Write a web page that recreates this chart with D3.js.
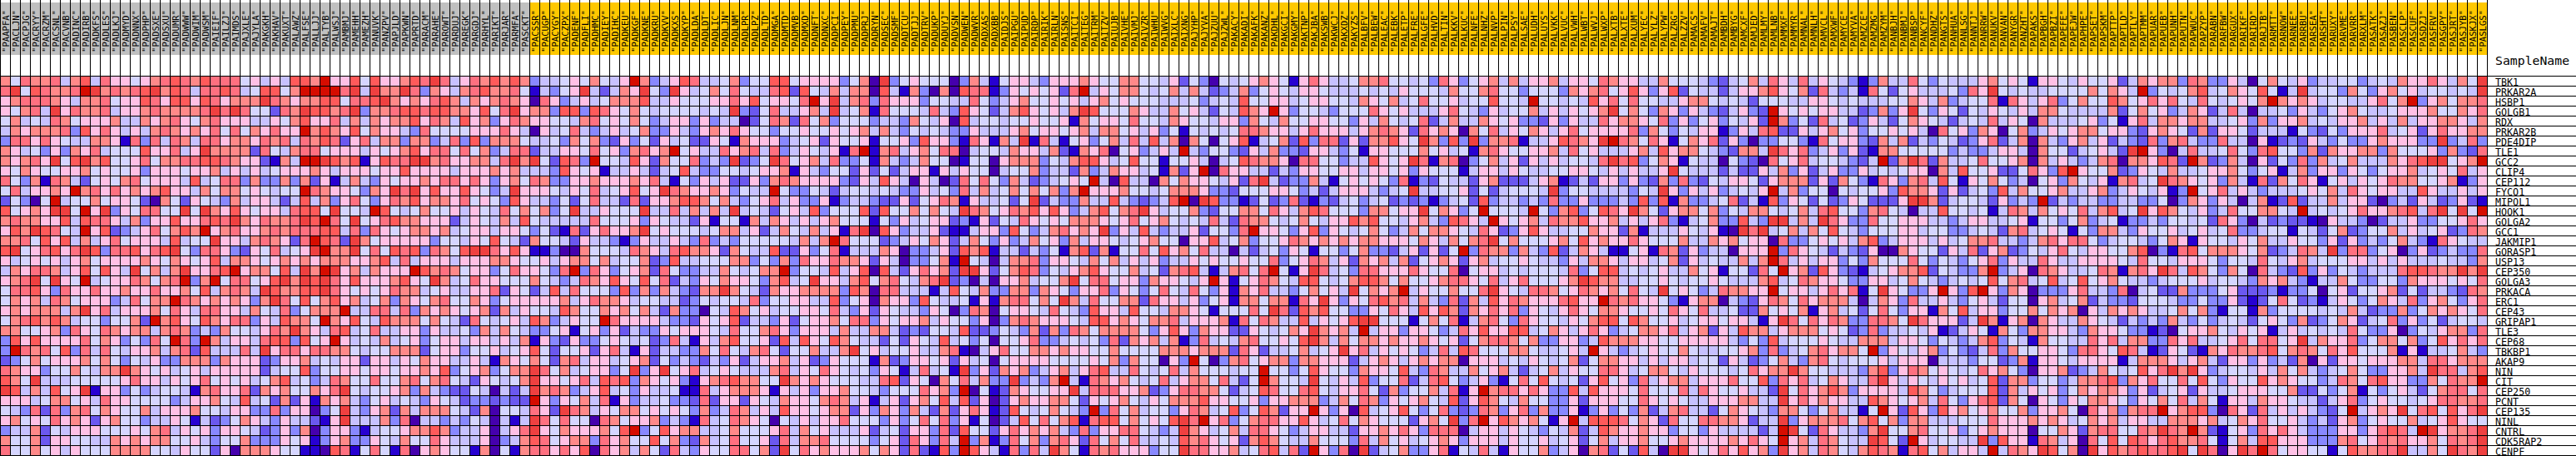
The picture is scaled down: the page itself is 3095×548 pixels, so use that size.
<!DOCTYPE html>
<html>
<head>
<meta charset="utf-8">
<style>
html,body{margin:0;padding:0;background:#fff;overflow:hidden}
svg{display:block}
text{fill:#000}
</style>
<script src="https://d3js.org/d3.v7.min.js"></script>
</head>
<body>
<svg id="chart" width="3095" height="548"></svg>
<script>
const genes = ["TBK1","PRKAR2A","HSBP1","GOLGB1","RDX","PRKAR2B","PDE4DIP","TLE1","GCC2","CLIP4","CEP112","FYCO1","MIPOL1","HOOK1","GOLGA2","GCC1","JAKMIP1","GORASP1","USP13","CEP350","GOLGA3","PRKACA","ERC1","CEP43","GRIPAP1","TLE3","CEP68","TBKBP1","AKAP9","NIN","CIT","CEP250","PCNT","CEP135","NINL","CNTRL","CDK5RAP2","CENPF"];
const samplesGray = ["PAAPFA","PACLJN","PACPJG","PACRYY","PACRZM","PACSNL","PACVNB","PADINC","PADIRB","PADKFS","PADLES","PADLKJ","PADMYD","PADNNX","PADPHP","PADSXE","PADSXU","PADUMR","PADWWW","PADWIM","PADWSM","PAIEIF","PAILZJ","PAIMDS","PAJXLE","PAJYLA","PAKGKH","PAKHAV","PAKUXT","PALAWZ","PALFSE","PALLJJ","PALTYB","PALWSJ","PAMBMJ","PAMEHH","PAMEZH","PANUVK","PANZPV","PAPJLD","PAPKWN","PAPRTD","PARACM","PARAHE","PAROWT","PARDUJ","PAREGK","PARGDJ","PARHYL","PARIKT","PARJAR","PARMFA","PASCKT"];
const samplesGold = ["PACSSR","PACUGP","PACYGY","PACZPX","PADENF","PADFLI","PADHMC","PADIEY","PADIHC","PADKEU","PADKGF","PADKNE","PADKRU","PADKVV","PADKXS","PADKYP","PADLDA","PADLDT","PADLIC","PADLJN","PADLNM","PADLPR","PADLPZ","PADLTD","PADMGA","PADMTD","PADMVB","PADMXD","PADNFT","PADNXC","PADPCI","PADPEY","PADPMU","PADPRJ","PADRYN","PADSEC","PADSMF","PADTCU","PADTJJ","PADTRV","PADUKP","PADUYJ","PADVSN","PADWEN","PADWVR","PADXAS","PADXBB","PAIDJS","PAIPGU","PAIPUD","PAIRDP","PAIRIK","PAIRLN","PAISNS","PAITCI","PAITEG","PAITRM","PAITZV","PAIUJB","PAIVHE","PAIVMJ","PAIVZR","PAIWHU","PAIWVG","PAIXLC","PAIXNG","PAJYHP","PAJYVA","PAJZUU","PAJZWL","PAKACY","PAKADI","PAKAFK","PAKANZ","PAKDHL","PAKGCI","PAKGMY","PAKTNP","PAKJBA","PAKSWB","PAKWCJ","PAKXDZ","PAKYZS","PALBFV","PALBEW","PALEAC","PALEBK","PALETP","PALFRE","PALGFE","PALHVD","PALTIN","PALKKV","PALKUC","PALNFE","PALNHZ","PALNVP","PALPIN","PALPSY","PALSAE","PALUDH","PALUYS","PALVKK","PALVUC","PALVWH","PALWBT","PALWVJ","PALWXP","PALXTB","PALXTE","PALXUM","PALYEC","PALYLZ","PALYPW","PALZRG","PALZZV","PAMACS","PAMAFV","PAMAJT","PAMBDH","PAMBYG","PAMCXF","PAMJED","PAMLMY","PAMLNB","PAMMXF","PAMMYR","PAMNAL","PAMNLH","PAMVCL","PAMXWF","PAMYCE","PAMYVA","PAMZCE","PAMZMG","PAMZYM","PANBJH","PANBMJ","PANBSP","PANCYF","PANDHZ","PANGTS","PANHUA","PANLSG","PANNTJ","PANRRW","PANUKV","PANVAN","PANYGR","PANZHT","PAPAKS","PAPBGH","PAPBZI","PAPEFE","PAPEJW","PAPHPE","PAPSET","PAPSKM","PAPTTP","PAPTLD","PAPTLY","PAPTMM","PAPUAR","PAPUEB","PAPUNH","PAPUTN","PAPWUC","PAPZYP","PARABN","PARFBW","PARGUX","PARIKF","PARIRD","PARJTB","PARMTT","PARNOW","PARNEE","PARRBU","PARSEA","PARSHT","PARUXY","PARVME","PARVRR","PARXLM","PASATK","PASAZJ","PASBEN","PASCLP","PASCUF","PASDZJ","PASFRV","PASGPY","PASJRT","PASJYB","PASKJX","PASLGS"];
const palette = ["#4500AD","#2700D1","#6B58EF","#8888FF","#C7C1FF","#D5D5FF","#FFC0E5","#FF8989","#FF7080","#FF5A5A","#EF4040","#D60C00"];
// Heat levels (hex digit = palette index), one string per gene
const levelsA = [
"75877 84794 86656 78987 98885 64649 9","8a598 778ba 78789 a7984 88984 59957 b","67888 76477 85669 86996 98677 7a876 7","65784 a6877 84667 87777 8a8a8 55287 a","57454 87566 67447 67865 78666 44657 9","47677 78396 86464 78767 68585 76866 b","38868 65447 76183 84874 88677 68784 8","76453 63768 45559 66846 a7777 28547 8","76786 a59a7 95568 57788 99876 62174 b","65765 56675 65563 66656 67464 64566 6","85371 87425 65785 66649 45883 73373 7","58466 76b78 68676 79664 75775 65455 b","25305 b4557 56652 07526 54374 66424 9","95676 aa5b6 a3658 855a5 a7696 56648 9","78776 69498 86473 66966 898a7 68778 a","697a9 854b6 92346 85797 b6786 67878 8","77859 69474 68566 64945 5a664 78762 8","9a568 968a9 38896 89a53 88632 65845 6","64565 64675 66667 65765 69477 65676 7","47688 74695 964a5 747a6 689b6 77594 a","678a5 a65b4 56687 578b3 7b588 569a7 a","58896 38668 66766 86675 94787 4a977 9","57674 87566 63485 77b87 67676 37a85 9","67677 747a6 84666 75864 88664 75483 5","57897 97455 35572 b7965 97688 36497 7","77556 73865 87677 47873 43755 4687a 7","39696 66685 76353 85b83 b7466 48993 9","3b878 59384 85466 74782 94448 4a688 6","23575 66675 75354 63377 73766 62366 7","87663 55754 77a76 56456 46666 62455 9","975a4 44555 55686 64656 85656 45794 5","a9474 956a1 66353 45541 78668 27675 5","66645 77564 86655 55346 67549 45272 6","54382 83785 76557 46667 55466 33836 6","67565 86762 67553 44651 42357 64364 4","34472 54666 55565 78465 63665 42363 7","75572 66554 47676 77556 43557 33365 6","85575 64655 57777 55465 52607 77655 1"];
const levelsB = [
"7b669 59667 98a84 68797 97344 56575 4","bbb8a 4a77a 83764 78977 85143 56a42 4","79958 89a76 76897 47678 76086 34645 7","9978a 37789 98997 76958 a6773 99398 6","66847 47677 96874 96736 87665 54785 6","79769 57664 38555 56668 64064 58434 6","79826 84773 77348 39377 75445 37573 2","85666 46567 96885 85734 88244 66585 6","ba979 16988 aa786 67748 a7a52 983b5 5","76466 65669 66664 66676 74443 96561 4","26147 43656 67688 68636 75873 36676 6","87665 376a8 a6966 96534 a6665 46584 5","47368 53687 96776 85653 96443 52584 4","95a55 4b954 57556 46548 57573 5a446 5","9b85a 56897 76662 46547 49544 44485 5","89948 38656 77674 56646 65352 18268 6","b982a 75666 66355 46595 42755 42644 3","ab77a 58598 93875 9aa86 96113 00755 5","67776 67948 46664 66677 65564 67757 4","7ba67 47666 b9787 56635 86653 8b386 3","9a869 66679 65a74 58665 55754 34876 9","9a865 65687 74564 46682 65249 48555 3","57967 45737 65785 57635 66666 74687 7","777b4 48848 37676 56727 46554 97557 6","5b769 54977 75754 28545 64973 4655b 8","64894 58446 63644 53747 54335 61563 6","56b64 54745 63566 46646 47163 26335 6","88775 45577 72566 35564 56952 55626 8","45466 26646 57664 46417 65752 78466 4","35566 56656 67693 56735 77a85 74566 3","34875 58557 85785 42654 57a66 56849 8","768a5 45567 37432 25404 24a78 73469 4","17674 35645 43654 23323 22b63 65748 1","035a4 36727 47775 42705 54862 a8746 5","216a4 44738 04434 35404 14a85 85508 7","03663 14556 77973 44604 68a65 76667 5","13673 36547 55864 44603 47985 67738 6","10981 58518 06765 51705 17886 86908 6"];
const levelsC = [
"6b734 69844 57355 99566 66357 0a356 5","76a53 a6457 58544 89295 47477 09417 3","77944 65556 68695 6658b 6a478 38666 3","57545 55545 4a325 84467 4a457 18555 4","57534 66363 44025 87285 73555 34437 5","45733 64367 68655 35565 56567 47435 4","63526 45226 51766 63456 26556 15563 9","37867 b5644 86784 83465 4618b 17846 7","49627 55834 3a235 a8567 48335 17434 7","46424 59433 55456 67164 35526 25246 6","67684 15364 62263 78766 66326 49640 6","6956a 87667 63544 b5335 42455 45433 6","28266 79975 74356 84633 61344 32262 5","55a44 84747 4a454 25649 35559 29557 5","56365 44261 55174 76464 67555 15364 5","67a56 55545 77462 47547 4618a 09634 4","13644 64383 43555 55474 7b855 52346 5","48764 89776 27544 92263 58144 47603 3","55723 94455 57735 37386 68776 26403 3","56728 53344 75457 7b355 49469 09426 8","65958 24365 76653 7945a 66479 57854 7","93737 43277 a7542 76677 77397 08844 4","64554 42354 55483 55664 49356 07663 9","75742 73305 49756 45566 58436 26544 3","66664 33265 69244 36256 67588 36566 7","24336 56665 48557 86366 64744 77423 2","54523 84164 79556 29496 59754 42526 5","41624 43375 85478 52557 447a5 64556 4","56725 34324 36246 67462 36555 17236 6","5a36a 56845 65444 78465 86545 36514 8","93765 63167 89775 5a767 65554 48926 5","53644 51184 67776 16463 66755 43555 8","63445 33282 66265 47665 78746 14626 7","77565 65373 48746 49665 67726 37637 4","56673 43184 58765 05464 66855 53635 8","9b359 67744 57555 68475 64446 24526 6","75595 73274 58556 28477 85555 35628 6","74752 84365 58857 2a586 76667 57628 2"];
const levelsD = [
"55037 41566 43666 76557 75546 25305 4","07098 81365 65628 b4657 75457 47423 4","55448 53467 55656 46756 55544 45345 4","84396 52479 65647 a9555 76447 56425 4","46094 55455 65561 75665 85547 65546 6","54336 44467 56656 74775 64635 15454 5","66318 6174a 18415 63574 84947 07505 6","58804 55476 64721 76805 63464 b4355 3","55015 50677 73547 99645 95515 56404 5","16465 50455 73442 73476 64517 26b08 6","40285 85374 23456 5b409 44075 76654 6","45384 74575 75737 b6667 55457 77633 2","68716 44525 a2433 74494 32349 b0a93 3","754a8 75687 96963 47957 8a645 57325 5","66231 62548 65657 77656 85675 45484 2","62114 66395 34786 76a36 49434 46255 3","76247 53634 75637 46654 56755 06694 5","46297 91442 43517 92715 58596 75844 0","571b5 40477 83665 47574 64634 46565 5","672aa 62579 83546 79655 74527 89414 7","8a230 40667 4557a 58856 63766 546b6 1","14954 73377 37653 66836 53585 48536 1","54451 61788 575a7 48557 72866 46356 1","65038 70566 54854 39664 95547 76515 5","46553 60378 76665 49967 65778 46667 1","55492 23543 72738 75777 75369 63766 2","49453 50556 83345 45382 76747 13845 4","47810 46855 77676 65575 55577 76777 2","56264 50566 66555 56573 75506 3b503 7","451a3 62767 34674 68944 85458 47555 4","07584 733a3 437b4 18767 54584 67758 4","673b0 51276 5566a 48886 67236 88775 2","59492 60267 66775 26567 54657 77966 5","27268 61295 45754 3b385 74553 68745 9","58361 50249 58579 18995 75659 a8b68 3","38295 52686 76743 83668 85434 a7645 7","384b3 71385 73786 28575 84454 97865 6","193b9 64183 84a75 18786 66355 a8866 7"];
const levelsE = [
"56765 16864 45778 55453 86356 74746 6","73565 46654 44545 46555 47557 85535 5","95566 45665 54765 74585 56455 9554b 5","976b6 35543 55586 56444 68543 64557 4","37547 55665 53647 54582 47447 65633 2","88766 46866 64678 76286 76075 84657 6","91457 29388 26277 965a7 393a3 77814 4","26473 32664 35166 55575 64517 86556 6","98776 08855 34496 56a81 78035 74626 4","64424 36655 66466 56365 55146 64654 4","28a42 33741 56565 38132 54426 72224 6","55566 53424 66643 45a44 55625 24555 4","12523 82132 45345 23231 34529 34434 3","77586 47985 55377 566a5 7635b 5554b 5","87754 57546 69795 54674 39864 b6567 4","8b665 36936 54575 34757 76548 62369 6","73556 87676 76776 66576 47578 a5755 5","42453 65155 35733 24626 25b38 77374 3","65583 56874 62767 47256 76267 45565 4","858b5 16a84 53886 66865 58056 64545 5","56875 49954 57997 57556 78865 84685 5","76844 35756 4a576 7b465 57558 a6548 8","77577 186a6 36589 78474 38274 96876 6","585a8 29795 53365 86496 97276 86836 5","85874 49465 69aa5 55157 58147 85386 5","26545 76a76 74b46 63665 34869 66994 5","78556 59a74 75776 76676 56257 88757 3","86244 57456 a6846 56534 84985 55775 4","85677 37766 62467 64676 77066 64546 5","55b55 35965 53766 59438 74475 67424 5","25b75 54a54 64935 58248 95346 31585 9","45985 58954 66852 73557 4816b 78868 6","56366 77734 75873 65675 49269 75475 5","35972 66b63 60945 69535 83238 73683 7","57886 69645 85765 55267 5a38b 69767 5","48865 34664 42667 68638 88046 64654 3","27975 44755 53847 56456 76366 64655 6","45894 82b63 80a24 57336 81548 41655 7"];
const levelsF = [
"74665 87664 47555 43245 74864 84654 3","53767 85696 36925 44246 67965 72843 4","54549 68585 54467 75454 25554 46654 5","64656 7a575 37636 43246 32b65 65664 4","63644 86776 58363 56354 62b73 52845 2","46856 66683 75354 66136 48922 64675 6","69876 ab875 86157 68263 03355 31856 6","74856 44467 49677 54327 74a86 83463 6","64554 8a893 57615 44053 20856 84554 3","55665 46464 46a54 44242 26473 62463 3","71242 66363 27383 25466 52677 72627 5","a3554 44435 4a636 46345 46b47 35505 4","83363 33439 39173 34582 41936 52523 6","37935 986a7 52677 57354 77545 74895 5","87796 67464 68314 57339 43aa4 74a86 3","44557 66271 44465 4610a 8a457 47595 4","67596 76686 55574 47675 66083 35656 4","92476 41156 18726 34406 66b38 65424 3","43647 76466 45726 45447 47b84 64663 5","54835 99454 56447 56155 285b6 72963 2","567a9 77445 56545 56544 47945 87665 3","75687 67585 4a565 34877 66b56 64686 8","68966 b8786 65316 77043 26875 86777 4","46865 77655 65865 84452 27565 71674 5","54657 99597 55645 66566 416a8 58687 3","76468 63457 76846 72649 77467 77565 2","36634 97776 65566 66643 53945 55654 4","4564b 64345 65575 44556 73834 57867 7","45725 77664 64664 55264 23574 37854 5","74655 88645 77546 55545 8677a 75544 4","54526 95638 46774 66685 59386 84576 4","33949 66658 55584 86556 442a5 86797 3","33626 66558 65654 46667 744a6 86766 4","33613 63537 24784 42576 54377 53574 4","16b49 99857 62855 88776 244a3 67778 5","54724 97667 66355 36444 424ba 52864 4","45625 74667 55676 66676 865b6 74875 4","34607 82529 40aa6 56869 673a6 74875 4"];
const levelsG = [
"13744 85354 44675 65166 54655 62476 7","18525 64445 386a5 45445 55575 764b3 5","44455 76473 45581 86468 35755 97568 6","23736 a5365 25465 46477 54444 72575 6","36425 76542 45484 65074 44563 51684 7","35565 64085 63760 57346 56775 66326 7","32747 24354 23682 47074 36746 24328 3","21775 55553 43346 64075 52456 42ab6 3","24b27 a8274 45855 67074 64347 80776 9","64545 66074 95562 25863 9b655 72365 4","31863 78495 16575 34056 37546 17845 a","55639 77626 24539 47556 74467 34654 6","52226 aa724 55426 343b2 43443 34433 5","37854 04495 54514 87475 65847 945a6 9","38556 66443 46644 56155 35734 51334 3","35556 64553 34542 78456 51537 74365 5","79346 66464 57784 43478 68853 45543 5","26007 65526 48267 23546 85466 55790 3","37555 85354 35683 64486 44666 65485 5","14567 79254 337b3 46087 64458 71786 a","36645 75434 54595 78459 45956 75443 4","15a65 336b6 39b63 76033 36844 38045 2","04763 84464 35642 55067 45724 33255 5","25853 66175 94663 55757 67064 76764 4","38875 a8666 24a71 67076 44765 42434 3","38344 54612 46517 53776 64376 65331 2","77746 65354 34793 54175 54486 84773 3","5b365 46735 32483 75566 53886 59841 2","55646 66044 43552 37166 54666 61477 7","37936 87565 45867 53066 72347 54596 8","48a64 65465 64592 77355 34778 93768 5","66664 97534 55592 74656 35767 76362 4","49765 67485 36892 75065 36577 65365 7","15b62 96396 75675 57366 75086 73788 b","79573 77444 55586 66767 64576 74664 4","37a55 78556 35676 66055 76278 85587 a","4a952 b6455 44a39 66187 46085 95986 8","79871 89574 664b4 876a9 570a6 97898 8"];
const levelsH = [
"73873 36405 75463 44553 45476 68647 5a","45794 57659 514a4 55375 36756 45545 4a","85485 45657 b7676 45544 6857b 36757 78","34762 48404 45364 35675 44566 67557 68","76774 45637 36674 54667 46474 66776 47","65272 66524 44153 25366 68456 26866 77","78433 84406 12326 43533 67666 33a34 83","04844 58538 95537 27667 73755 56373 28","82b72 37406 25383 74574 44768 9aa56 7b","74456 67535 61473 66365 35667 45658 46","87656 37418 27586 15646 56877 55671 36","13b56 84643 44456 57486 56644 96446 46","03763 64047 12924 47466 20342 64236 21","75463 48557 754b4 54568 66789 48a5a 5b","55452 86304 23221 06443 02446 33556 86","64564 58334 55154 25723 55746 45623 87","76165 54657 44655 36263 43574 31865 44","18957 77657 23487 4a388 35603 62343 38","46665 35548 54674 55566 46464 44544 37","84975 37508 43293 63543 44489 9877a 7a","55564 55437 67431 44753 35537 66656 58","27333 56222 31335 05625 56725 24432 87","43353 36212 58523 14653 57648 36753 68","57573 15517 35555 45474 23373 57676 58","74353 45425 65372 35762 45836 35245 54","05667 54656 14645 45485 33603 54677 38","86844 56858 856a4 76683 57757 35968 68","65217 68778 95787 58695 55716 14457 43","64674 26636 34270 62665 66677 48867 77","a7a63 45546 47574 34575 33667 4a884 79","58595 36559 67655 34875 89663 37587 7b","56264 45666 55722 53571 53564 25788 58","58475 16647 66544 24683 56554 56887 78","67993 08628 46464 325b4 676a5 89596 8a","77767 45768 55643 42673 56557 45696 55","87b72 15638 68643 33663 68984 ba677 8a","97785 15749 96663 33785 68786 67587 8a","9a5a8 06a8b 85665 51597 788a4 475a8 7a"];

const samples = samplesGray.concat(samplesGold);
const panels = [levelsA, levelsB, levelsC, levelsD, levelsE, levelsF, levelsG, levelsH];
const rows = genes.map((g, r) => panels.map(p => p[r].replace(/ /g, "")).join(""));
rows.forEach((s, r) => { if (s.length !== samples.length) throw new Error("row " + r + " has " + s.length); });
const cells = rows.flatMap((s, r) => Array.from(s, (c, i) => ({gene: genes[r], sample: samples[i], level: parseInt(c, 16)})));

const chartWidth = 3095, gridW = 2988, gridTop = 91, gridBottom = 547;
const x = d3.scaleBand().domain(samples).range([0, gridW]);
const y = d3.scaleBand().domain(genes).range([gridTop, gridBottom]);
const color = d3.scaleOrdinal().domain(d3.range(palette.length)).range(palette);
const grayIds = new Set(samplesGray);

const svg = d3.select("#chart");
svg.append("g").selectAll("rect").data(samples).join("rect")
  .attr("x", d => x(d)).attr("y", 3).attr("width", x.bandwidth()).attr("height", 63)
  .attr("fill", d => grayIds.has(d) ? "#C0C0C0" : "#FFC800");
svg.append("g").selectAll("rect").data(cells).join("rect")
  .attr("x", d => x(d.sample)).attr("y", d => y(d.gene))
  .attr("width", x.bandwidth()).attr("height", y.bandwidth())
  .attr("fill", d => color(d.level));

const gridLines = svg.append("g").attr("stroke", "#000").attr("stroke-width", 1).attr("shape-rendering", "crispEdges");
gridLines.selectAll("line.v").data(samples.concat("__end")).join("line").attr("class", "v")
  .attr("x1", d => (d === "__end" ? gridW : x(d)) + 0.5).attr("x2", d => (d === "__end" ? gridW : x(d)) + 0.5)
  .attr("y1", 0).attr("y2", gridBottom + 1);
gridLines.selectAll("line.h").data(genes.concat("__end")).join("line").attr("class", "h")
  .attr("y1", d => (d === "__end" ? gridBottom : y(d)) + 0.5).attr("y2", d => (d === "__end" ? gridBottom : y(d)) + 0.5)
  .attr("x1", 0).attr("x2", chartWidth);

svg.append("g").selectAll("text").data(samples).join("text")
  .attr("transform", d => `translate(${x(d) + 11},63) rotate(-90)`)
  .attr("font-family", "'DejaVu Sans Mono',monospace").attr("font-size", 10.6)
  .text(d => `"${d}"`);
svg.append("g").selectAll("text").data(genes).join("text")
  .attr("x", 2998).attr("y", d => y(d) + y.bandwidth())
  .attr("font-family", "'DejaVu Sans Mono',monospace").attr("font-size", 11.7)
  .text(d => d);
svg.append("text").attr("x", 2998).attr("y", 78)
  .attr("font-family", "'DejaVu Sans Mono',monospace").attr("font-size", 14.8)
  .text("SampleName");
</script>
</body>
</html>
